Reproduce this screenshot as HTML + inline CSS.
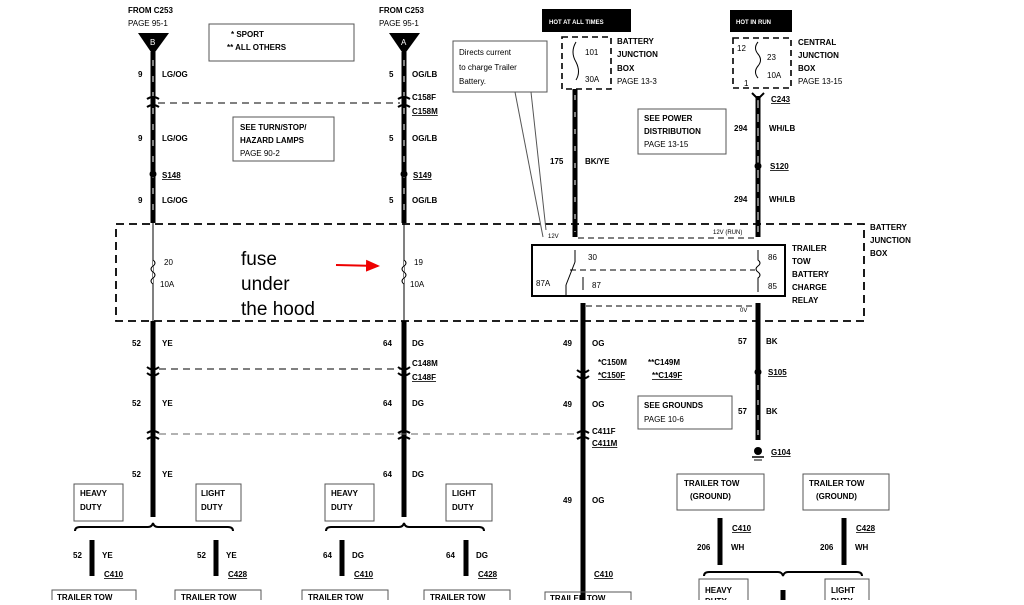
<!DOCTYPE html>
<html><head><style>
body{margin:0;background:#fff}
svg text{font-family:"Liberation Sans",Arial,sans-serif;font-size:8px;font-weight:bold;fill:#000}
svg .n{font-weight:normal}
</style></head><body>
<svg width="1024" height="600" viewBox="0 0 1024 600" xmlns="http://www.w3.org/2000/svg">
<defs>
<marker id="ar" markerWidth="8" markerHeight="8" refX="6" refY="3" orient="auto"><path d="M0,0 L7,3 L0,6z" fill="#e00"/></marker>
</defs>
<g fill="none" stroke="#000">
<!-- top left wires -->
<line x1="153" y1="52" x2="153" y2="223" stroke-width="5"/>
<line x1="404" y1="52" x2="404" y2="223" stroke-width="5"/>
<line x1="153" y1="60" x2="153" y2="220" stroke="#fff" stroke-width="1" stroke-dasharray="6 10"/>
<line x1="404" y1="60" x2="404" y2="220" stroke="#fff" stroke-width="1" stroke-dasharray="6 10"/>
<line x1="158" y1="103" x2="400" y2="103" stroke-width="1" stroke-dasharray="7 5"/>
<path d="M147,99 Q153,95 159,99 M147,107 Q153,103 159,107 M398,99 Q404,95 410,99 M398,107 Q404,103 410,107" stroke-width="2"/>
<!-- fuse wires -->
<line x1="153" y1="223" x2="153" y2="321" stroke-width="1"/>
<line x1="404" y1="223" x2="404" y2="321" stroke-width="1"/>
<path d="M153,260 q4,3 0,6 q-4,3 0,6 q4,3 0,6 q-4,3 0,6" fill="#fff" stroke-width="1"/>
<path d="M404,260 q4,3 0,6 q-4,3 0,6 q4,3 0,6 q-4,3 0,6" fill="#fff" stroke-width="1"/>
<!-- big dashed box -->
<rect x="116" y="224" width="748" height="97" stroke-width="1.8" stroke-dasharray="8 5"/>
<!-- boxes -->
<rect x="209" y="24" width="145" height="37" stroke="#555"/>
<rect x="233" y="117" width="101" height="44" stroke="#555"/>
<rect x="453" y="41" width="94" height="51" stroke="#555"/>
<line x1="515" y1="92" x2="543" y2="237" stroke="#555"/>
<line x1="531" y1="92" x2="546" y2="230" stroke="#555"/>
<rect x="562" y="37" width="49" height="52" stroke-width="1.6" stroke-dasharray="6 4"/>
<rect x="733" y="38" width="58" height="50" stroke-width="1.6" stroke-dasharray="6 4"/>
<rect x="638" y="109" width="88" height="45" stroke="#555"/>
<!-- fuse 101 -->
<path d="M576,42 q-6,10 0,20 q5,10 0,18" stroke-width="1"/>
<path d="M758,42 q-5,6 0,12 q5,6 0,12 q-5,6 0,12" stroke-width="1"/>
<!-- right upper wires -->
<line x1="575" y1="89" x2="575" y2="237" stroke-width="5"/>
<line x1="575" y1="95" x2="575" y2="232" stroke="#fff" stroke-dasharray="5 12"/>
<line x1="758" y1="96" x2="758" y2="237" stroke-width="5"/>
<line x1="758" y1="100" x2="758" y2="232" stroke="#fff" stroke-dasharray="8 6"/>
<path d="M752,93 L758,99 L764,93" stroke-width="2"/>
<line x1="578" y1="238" x2="755" y2="238" stroke-width="1" stroke-dasharray="6 4"/>
<!-- relay -->
<rect x="532" y="245" width="253" height="51" stroke-width="2"/>
<line x1="575" y1="250" x2="575" y2="262" /><line x1="566" y1="285" x2="575" y2="262"/>
<line x1="566" y1="285" x2="566" y2="296"/>
<line x1="570" y1="270" x2="755" y2="270" stroke-dasharray="6 4"/>
<line x1="583" y1="277" x2="583" y2="290"/>
<path d="M758,250 L758,260 q4,3 0,6 q-4,3 0,6 q4,3 0,6 L758,292"/>
<!-- lower wires -->
<line x1="153" y1="321" x2="153" y2="517" stroke-width="5"/>
<line x1="404" y1="321" x2="404" y2="517" stroke-width="5"/>
<line x1="583" y1="303" x2="583" y2="600" stroke-width="5"/>
<line x1="758" y1="303" x2="758" y2="440" stroke-width="5"/>
<line x1="758" y1="385" x2="758" y2="440" stroke="#fff" stroke-dasharray="5 10"/>
<line x1="586" y1="306" x2="755" y2="306" stroke-dasharray="6 4"/>
<line x1="159" y1="369" x2="400" y2="369" stroke-dasharray="7 5"/>
<line x1="159" y1="434" x2="578" y2="434" stroke="#666" stroke-dasharray="7 5"/>
<path d="M147,367 Q153,372 159,367 M147,373 Q153,378 159,373 M398,367 Q404,372 410,367 M398,373 Q404,378 410,373 M577,370 Q583,375 589,370 M577,376 Q583,381 589,376" stroke-width="2"/>
<path d="M147,433 Q153,429 159,433 M147,439 Q153,435 159,439 M398,433 Q404,429 410,433 M398,439 Q404,435 410,439 M577,433 Q583,429 589,433 M577,439 Q583,435 589,439" stroke-width="2"/>
<!-- heavy/light boxes -->
<rect x="74" y="484" width="49" height="37" stroke="#555"/>
<rect x="196" y="484" width="45" height="37" stroke="#555"/>
<rect x="325" y="484" width="49" height="37" stroke="#555"/>
<rect x="446" y="484" width="46" height="37" stroke="#555"/>
<path d="M75,531 q0,-4 5,-4 L148,527 q4,0 5,-4 q1,4 5,4 L228,527 q5,0 5,4" stroke-width="2"/>
<path d="M326,531 q0,-4 5,-4 L399,527 q4,0 5,-4 q1,4 5,4 L479,527 q5,0 5,4" stroke-width="2"/>
<g stroke-width="5">
<line x1="92" y1="540" x2="92" y2="576"/><line x1="216" y1="540" x2="216" y2="576"/>
<line x1="342" y1="540" x2="342" y2="576"/><line x1="466" y1="540" x2="466" y2="576"/>
<line x1="720" y1="518" x2="720" y2="565"/><line x1="844" y1="518" x2="844" y2="565"/>
<line x1="783" y1="590" x2="783" y2="600"/>
</g>
<rect x="52" y="590" width="84" height="20" stroke="#555"/>
<rect x="175" y="590" width="86" height="20" stroke="#555"/>
<rect x="302" y="590" width="86" height="20" stroke="#555"/>
<rect x="424" y="590" width="86" height="20" stroke="#555"/>
<rect x="545" y="592" width="86" height="20" stroke="#555"/>
<rect x="638" y="396" width="94" height="33" stroke="#555"/>
<rect x="677" y="474" width="87" height="36" stroke="#555"/>
<rect x="803" y="474" width="86" height="36" stroke="#555"/>
<path d="M704,576 q0,-4 5,-4 L778,572 q4,0 5,4 q1,-4 5,-4 L857,572 q5,0 5,4" stroke-width="2"/>
<rect x="699" y="579" width="49" height="30" stroke="#555"/>
<rect x="825" y="579" width="44" height="30" stroke="#555"/>
<line x1="752" y1="457" x2="764" y2="457" stroke-width="1.5"/>
<line x1="754" y1="460" x2="762" y2="460"/>
<line x1="336" y1="265" x2="378" y2="266" stroke="#e00" stroke-width="2" marker-end="url(#ar)"/>
</g>
<g fill="#000">
<path d="M138,33 L169,33 L153,55z"/><path d="M389,33 L420,33 L404,55z"/>
<circle cx="153" cy="174" r="3.5"/><circle cx="404" cy="174" r="3.5"/>
<circle cx="758" cy="166" r="3.5"/><circle cx="758" cy="372" r="3.5"/>
<circle cx="758" cy="451" r="4"/>
<rect x="542" y="9" width="89" height="23"/><rect x="730" y="10" width="62" height="22"/>
</g>
<text x="150" y="45" fill="#fff" style="fill:#fff" class="n">B</text>
<text x="401" y="45" style="fill:#fff" class="n">A</text>
<text x="549" y="24" style="fill:#fff;font-size:6px">HOT AT ALL TIMES</text>
<text x="736" y="24" style="fill:#fff;font-size:6px">HOT IN RUN</text>
<text x="128" y="13">FROM C253</text><text x="128" y="26" class="n">PAGE 95-1</text>
<text x="379" y="13">FROM C253</text><text x="379" y="26" class="n">PAGE 95-1</text>
<text x="231" y="37">* SPORT</text><text x="227" y="50">** ALL OTHERS</text>
<text x="138" y="77">9</text><text x="162" y="77">LG/OG</text>
<text x="138" y="141">9</text><text x="162" y="141">LG/OG</text>
<text x="138" y="203">9</text><text x="162" y="203">LG/OG</text>
<text x="162" y="178" text-decoration="underline">S148</text>
<text x="389" y="77">5</text><text x="412" y="77">OG/LB</text>
<text x="389" y="141">5</text><text x="412" y="141">OG/LB</text>
<text x="389" y="203">5</text><text x="412" y="203">OG/LB</text>
<text x="413" y="178" text-decoration="underline">S149</text>
<text x="412" y="100">C158F</text><text x="412" y="114" text-decoration="underline">C158M</text>
<text x="240" y="130">SEE TURN/STOP/</text><text x="240" y="143">HAZARD LAMPS</text><text x="240" y="156" class="n">PAGE 90-2</text>
<text x="164" y="265" class="n">20</text><text x="160" y="287" class="n">10A</text>
<text x="414" y="265" class="n">19</text><text x="410" y="287" class="n">10A</text>
<text x="241" y="265" style="font-size:19px;font-weight:normal">fuse</text>
<text x="241" y="290" style="font-size:19px;font-weight:normal">under</text>
<text x="241" y="315" style="font-size:19px;font-weight:normal">the hood</text>
<text x="459" y="55" class="n">Directs current</text><text x="459" y="70" class="n">to charge Trailer</text><text x="459" y="84" class="n">Battery.</text>
<text x="585" y="55" class="n">101</text><text x="585" y="82" class="n">30A</text>
<text x="617" y="44">BATTERY</text><text x="617" y="57">JUNCTION</text><text x="617" y="71">BOX</text><text x="617" y="84" class="n">PAGE 13-3</text>
<text x="737" y="51" class="n">12</text><text x="767" y="60" class="n">23</text><text x="767" y="78" class="n">10A</text><text x="744" y="86" class="n">1</text>
<text x="798" y="45">CENTRAL</text><text x="798" y="58">JUNCTION</text><text x="798" y="71">BOX</text><text x="798" y="84" class="n">PAGE 13-15</text>
<text x="771" y="102" text-decoration="underline">C243</text>
<text x="734" y="131">294</text><text x="769" y="131">WH/LB</text>
<text x="770" y="169" text-decoration="underline">S120</text>
<text x="734" y="202">294</text><text x="769" y="202">WH/LB</text>
<text x="550" y="164">175</text><text x="585" y="164">BK/YE</text>
<text x="644" y="121">SEE POWER</text><text x="644" y="134">DISTRIBUTION</text><text x="644" y="147" class="n">PAGE 13-15</text>
<text x="548" y="238" style="font-size:6px" class="n">12V</text><text x="713" y="234" style="font-size:6px" class="n">12V (RUN)</text>
<text x="588" y="260" class="n">30</text><text x="536" y="286" class="n">87A</text><text x="592" y="288" class="n">87</text>
<text x="768" y="260" class="n">86</text><text x="768" y="289" class="n">85</text>
<text x="792" y="251">TRAILER</text><text x="792" y="264">TOW</text><text x="792" y="277">BATTERY</text><text x="792" y="290">CHARGE</text><text x="792" y="303">RELAY</text>
<text x="870" y="230">BATTERY</text><text x="870" y="243">JUNCTION</text><text x="870" y="256">BOX</text>
<text x="740" y="312" style="font-size:6px" class="n">0V</text>
<text x="132" y="346">52</text><text x="162" y="346">YE</text>
<text x="132" y="406">52</text><text x="162" y="406">YE</text>
<text x="132" y="477">52</text><text x="162" y="477">YE</text>
<text x="383" y="346">64</text><text x="412" y="346">DG</text>
<text x="383" y="406">64</text><text x="412" y="406">DG</text>
<text x="383" y="477">64</text><text x="412" y="477">DG</text>
<text x="412" y="366">C148M</text><text x="412" y="380" text-decoration="underline">C148F</text>
<text x="563" y="346">49</text><text x="592" y="346">OG</text>
<text x="563" y="407">49</text><text x="592" y="407">OG</text>
<text x="563" y="503">49</text><text x="592" y="503">OG</text>
<text x="598" y="365">*C150M</text><text x="598" y="378" text-decoration="underline">*C150F</text>
<text x="648" y="365">**C149M</text><text x="652" y="378" text-decoration="underline">**C149F</text>
<text x="592" y="434">C411F</text><text x="592" y="446" text-decoration="underline">C411M</text>
<text x="644" y="408">SEE GROUNDS</text><text x="644" y="422" class="n">PAGE 10-6</text>
<text x="738" y="344">57</text><text x="766" y="344">BK</text>
<text x="768" y="375" text-decoration="underline">S105</text>
<text x="738" y="414">57</text><text x="766" y="414">BK</text>
<text x="771" y="455" text-decoration="underline">G104</text>
<text x="80" y="496">HEAVY</text><text x="80" y="510">DUTY</text>
<text x="201" y="496">LIGHT</text><text x="201" y="510">DUTY</text>
<text x="331" y="496">HEAVY</text><text x="331" y="510">DUTY</text>
<text x="452" y="496">LIGHT</text><text x="452" y="510">DUTY</text>
<text x="73" y="558">52</text><text x="102" y="558">YE</text><text x="104" y="577" text-decoration="underline">C410</text>
<text x="197" y="558">52</text><text x="226" y="558">YE</text><text x="228" y="577" text-decoration="underline">C428</text>
<text x="323" y="558">64</text><text x="352" y="558">DG</text><text x="354" y="577" text-decoration="underline">C410</text>
<text x="446" y="558">64</text><text x="476" y="558">DG</text><text x="478" y="577" text-decoration="underline">C428</text>
<text x="594" y="577" text-decoration="underline">C410</text>
<text x="57" y="600">TRAILER TOW</text><text x="181" y="600">TRAILER TOW</text><text x="308" y="600">TRAILER TOW</text><text x="430" y="600">TRAILER TOW</text><text x="550" y="601">TRAILER TOW</text>
<text x="684" y="486">TRAILER TOW</text><text x="690" y="499">(GROUND)</text>
<text x="809" y="486">TRAILER TOW</text><text x="816" y="499">(GROUND)</text>
<text x="697" y="550">206</text><text x="731" y="550">WH</text><text x="732" y="531" text-decoration="underline">C410</text>
<text x="820" y="550">206</text><text x="855" y="550">WH</text><text x="856" y="531" text-decoration="underline">C428</text>
<text x="705" y="593">HEAVY</text><text x="705" y="604">DUTY</text>
<text x="831" y="593">LIGHT</text><text x="831" y="604">DUTY</text>
</svg>
</body></html>
